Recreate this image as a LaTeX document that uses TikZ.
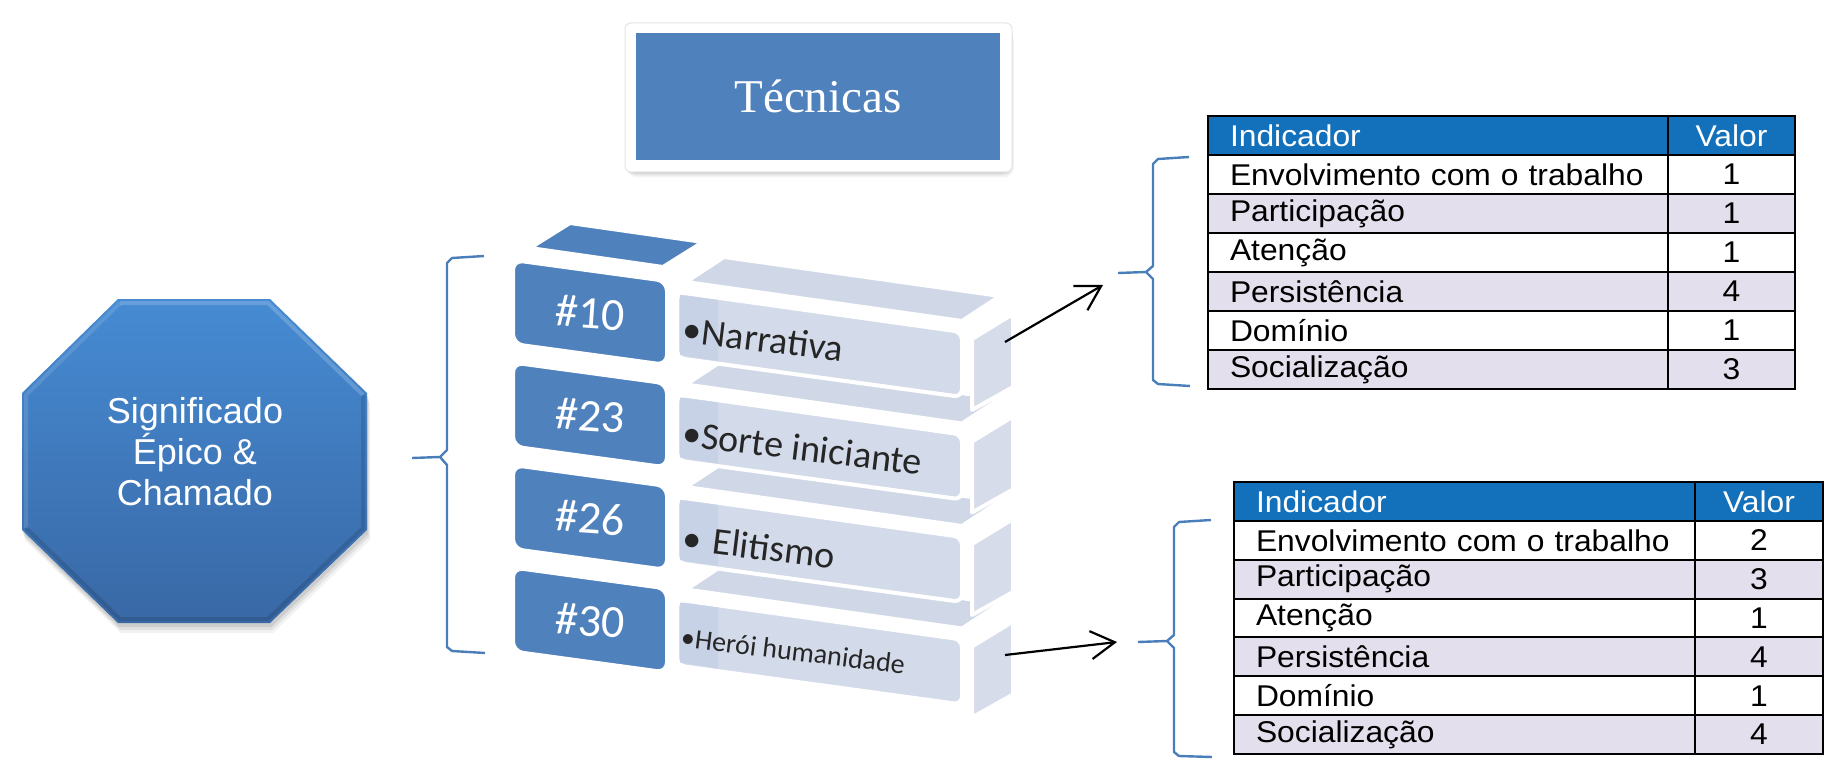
\documentclass[tikz,border=0pt]{standalone}
\usepackage{fontspec}
\setmainfont{Liberation Sans}
\newfontfamily\calfont{Carlito}
\newfontfamily\timesfont{Liberation Serif}
\newfontfamily\tabfont[FakeStretch=1.06]{Liberation Sans}
\usetikzlibrary{arrows.meta,shadows}
\definecolor{blueA}{HTML}{4F81BD}
\definecolor{lightF}{HTML}{D3DAE9}
\definecolor{lightT}{HTML}{D0D8E8}
\definecolor{lightS}{HTML}{D6DCEA}
\definecolor{lightStrip}{HTML}{C8D2E6}
\definecolor{braceC}{HTML}{4A7EBB}
\definecolor{hdr}{HTML}{1370BA}
\definecolor{stripe}{HTML}{E4DFEC}
\definecolor{octtop}{HTML}{468BD3}
\definecolor{octbot}{HTML}{3968A5}
\begin{document}
\begin{tikzpicture}[x=0.5pt,y=-0.5pt,
  face/.style={draw=white, line width=2pt, line join=round},
  darkblock/.style={face, fill=blueA, rounded corners=5pt},
  numlabel/.style={text=white, font=\calfont\fontsize{23}{26}\selectfont, rotate=-4},
  barlabel/.style={anchor=west, text=black!85, font=\calfont\fontsize{19}{22}\selectfont, rotate=-7, inner sep=0pt},
  bracket/.style={draw=braceC, line width=1.2pt, line join=round},
  arrowline/.style={draw=black, line width=1.1pt, -{Straight Barb[length=12pt,width=14pt,line width=1.1pt]}},
  tabtext/.style={font=\tabfont\fontsize{15}{17}\selectfont},
  icell/.style={tabtext, draw=black, line width=1pt, anchor=north west, inner xsep=11pt, inner ysep=0pt, align=left},
  vcell/.style={tabtext, draw=black, line width=1pt, anchor=north west, inner sep=0pt, align=center},
  softshadow/.style={fill=black, opacity=#1},
]
\useasboundingbox (0,0) rectangle (1832,765);

% ---------- octagon ----------
\foreach \s/\op in {10/0.05,7/0.07,4/0.09}{
  \fill[softshadow=\op] ({118+\s*0.3},{299+\s}) -- ({270+\s*0.3},{299+\s}) -- ({367+\s*0.3},{393+\s}) -- ({367+\s*0.3},{530+\s}) -- ({270+\s*0.3},{623+\s}) -- ({118+\s*0.3},{623+\s}) -- ({22+\s*0.3},{530+\s}) -- ({22+\s*0.3},{393+\s}) -- cycle;
}
\path[top color=octtop, bottom color=octbot]
  (118,299) -- (270,299) -- (367,393) -- (367,530) -- (270,623) -- (118,623) -- (22,530) -- (22,393) -- cycle;
\draw[white, opacity=.18, line width=2pt, line join=round] (120,303) -- (268,303) -- (363,395);
\draw[white, opacity=.12, line width=2pt, line join=round] (120,303) -- (26,395) -- (26,528);
\draw[black, opacity=.12, line width=2pt, line join=round] (363,395) -- (363,528) -- (268,619) -- (120,619) -- (26,528);
\node[text=white, align=center, font=\fontsize{18}{20.5}\selectfont] (sig) at (195,452) {Significado\\Épico \&\\Chamado};

% ---------- left brace ----------
\coordinate (lbtip) at (412,458);
\draw[bracket] (484,256) -- (452,258) -- (447,263) -- (447,450) -- (440,457) -- (lbtip);
\draw[bracket] (440,457) -- (447,465) -- (447,647) -- (452,651) -- (485,653);

% ---------- Tecnicas ----------
\foreach \s/\op in {9/0.04,6/0.06,3/0.08}{
  \fill[softshadow=\op, rounded corners=5pt] ({625+\s*0.2},{23+\s}) rectangle ({1012+\s*0.2},{172+\s*0.6});
}
\node[fill=white, draw=black!10, line width=0.5pt, rounded corners=3pt, minimum width=193.5pt, minimum height=74.5pt] (tecbox) at (818.5,97.5) {};
\node[fill=blueA, minimum width=182pt, minimum height=63.5pt, text=white,
      font=\timesfont\fontsize{23.5}{26}\selectfont] (tec) at (818,96.5) {Técnicas};

% ---------- light bars ----------
\foreach \k in {3,2,1,0}{
  \pgfmathsetmacro\o{102.5*\k}
  \path[face, fill=lightT] (686,{282+\o}) -- (724,{257+\o}) -- (1000,{296+\o}) -- (962,{321+\o}) -- cycle;
  \path[face, fill=lightS] (972,{339+\o}) -- (1013,{314+\o}) -- (1013,{387+\o}) -- (972,{410+\o}) -- cycle;
  \path[face, fill=lightF, rounded corners=4pt] (677,{292+\o}) -- (962,{332+\o}) -- (962,{397+\o}) -- (677,{358+\o}) -- cycle;
  \fill[lightStrip] (680,{295+\o}) -- (718,{300+\o}) -- (718,{361+\o}) -- (680,{355+\o}) -- cycle;
}

% ---------- dark blocks ----------
\path[face, fill=blueA] (530,248) -- (570,223) -- (703,242) -- (663,267) -- cycle;
\foreach \k in {0,1,2,3}{
  \pgfmathsetmacro\o{102.5*\k}
  \path[darkblock] (513,{260+\o}) -- (667,{281+\o}) -- (667,{365+\o}) -- (513,{344+\o}) -- cycle;
}
\node[numlabel] (n10) at (590,313) {\#10};
\node[numlabel] (n23) at (590,415.5) {\#23};
\node[numlabel] (n26) at (590,518) {\#26};
\node[numlabel] (n30) at (590,620.5) {\#30};

\node[barlabel] (b10) at (683,329) {•Narrativa};
\node[barlabel] (b23) at (683,433) {•Sorte iniciante};
\node[barlabel] (b26) at (683,537) {•\hspace{0.3em}Elitismo};
\node[barlabel, font=\calfont\fontsize{14}{16}\selectfont] (b30) at (681,637) {•Herói humanidade};

% ---------- table 1 ----------
\node[icell, fill=hdr, text=white, minimum width=230pt, text width=208pt, minimum height=19.5pt] (t1h) at (1207,115) {Indicador};
\node[vcell, fill=hdr, text=white, minimum width=63.5pt, minimum height=19.5pt] (t1hv) at (1667,115) {Valor};
\foreach \lab/\val [count=\i] in {Envolvimento com o trabalho/1, Participação/1, Atenção/1, Persistência/4, Domínio/1, Socialização/3}{
  \ifodd\i \def\rc{white}\else\def\rc{stripe}\fi
  \node[icell, fill=\rc, minimum width=230pt, text width=208pt, minimum height=19.5pt] (t1l\i) at (1207,{154+39*(\i-1)}) {\lab};
  \node[vcell, fill=\rc, minimum width=63.5pt, minimum height=19.5pt] (t1v\i) at (1667,{154+39*(\i-1)}) {\val};
}

% ---------- table 2 ----------
\node[icell, fill=hdr, text=white, minimum width=230.5pt, text width=208.5pt, minimum height=19.43pt] (t2h) at (1233,481) {Indicador};
\node[vcell, fill=hdr, text=white, minimum width=64pt, minimum height=19.43pt] (t2hv) at (1694,481) {Valor};
\foreach \lab/\val [count=\i] in {Envolvimento com o trabalho/2, Participação/3, Atenção/1, Persistência/4, Domínio/1, Socialização/4}{
  \ifodd\i \def\rc{white}\else\def\rc{stripe}\fi
  \node[icell, fill=\rc, minimum width=230.5pt, text width=208.5pt, minimum height=19.43pt] (t2l\i) at (1233,{519.86+38.86*(\i-1)}) {\lab};
  \node[vcell, fill=\rc, minimum width=64pt, minimum height=19.43pt] (t2v\i) at (1694,{519.86+38.86*(\i-1)}) {\val};
}

% ---------- right braces ----------
\coordinate (rb1tip) at (1118,273);
\draw[bracket] (1189,157) -- (1158,159) -- (1153,164) -- (1153,266) -- (1146,272) -- (rb1tip);
\draw[bracket] (1146,272) -- (1153,279) -- (1153,380) -- (1158,384) -- (1190,386);
\coordinate (rb2tip) at (1138,642);
\draw[bracket] (1211,520) -- (1179,522) -- (1174,527) -- (1174,635) -- (1167,641) -- (rb2tip);
\draw[bracket] (1167,641) -- (1174,648) -- (1174,752) -- (1179,756) -- (1212,757);

% ---------- arrows ----------
\coordinate (a1s) at (1005,342);
\coordinate (a1e) at (1103,285);
\coordinate (a2s) at (1005,655);
\coordinate (a2e) at (1117,642);
\draw[arrowline] (a1s) -- (a1e);
\draw[arrowline] (a2s) -- (a2e);
\end{tikzpicture}
\end{document}
